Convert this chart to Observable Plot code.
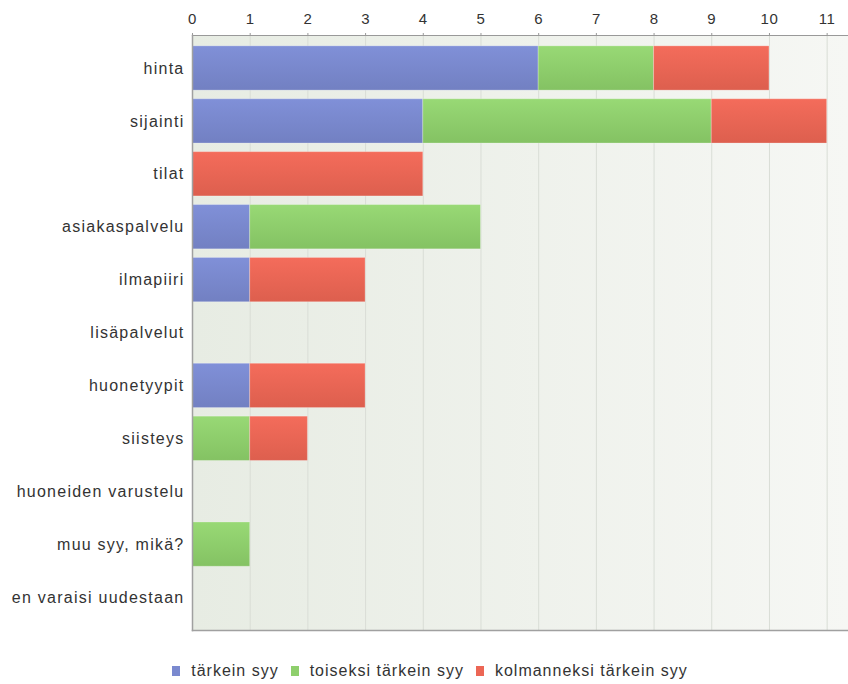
<!DOCTYPE html>
<html>
<head>
<meta charset="utf-8">
<script src="https://cdn.jsdelivr.net/npm/d3@7"></script>
<script src="https://cdn.jsdelivr.net/npm/@observablehq/plot@0.6"></script>
<style>
  body { margin: 0; background: #fff; font-family: "Liberation Sans", Arial, sans-serif; }
  #chart svg g[aria-label="y-axis tick label"] text { letter-spacing: 1.25px; }
  #chart svg g[aria-label="x-axis tick label"] text { letter-spacing: 0.5px; }
  .legend { display: flex; justify-content: center; align-items: center; margin-top: 16px; padding-left: 24px;
    font-size: 16px; letter-spacing: 1px; color: #333; line-height: 20px; }
  .legend span.sw { display: inline-block; width: 8px; height: 10px; margin-right: 11px; }
  .legend span.item { display: inline-flex; align-items: center; margin-right: 12px; }
</style>
</head>
<body>
<div id="chart"></div>
<script>
const categories = ["hinta", "sijainti", "tilat", "asiakaspalvelu", "ilmapiiri", "lisäpalvelut",
  "huonetyypit", "siisteys", "huoneiden varustelu", "muu syy, mikä?", "en varaisi uudestaan"];
const series = ["tärkein syy", "toiseksi tärkein syy", "kolmanneksi tärkein syy"];
const tarkein   = [6, 4, 0, 1, 1, 0, 1, 0, 0, 0, 0];
const toiseksi  = [2, 5, 0, 4, 0, 0, 0, 1, 0, 1, 0];
const kolmanneksi = [2, 2, 4, 0, 2, 0, 2, 1, 0, 0, 0];
const xTicks = [0, 1, 2, 3, 4, 5, 6, 7, 8, 9, 10, 11];
const seriesValues = [tarkein, toiseksi, kolmanneksi];
const swatchColors = ["#7a89cf", "#8ecf6c", "#ec6655"];
const gradients = [["#8090d8", "#7280c2"], ["#98d975", "#84c263"], ["#f46c5b", "#dd5f4e"]];

const data = [];
categories.forEach((c, i) => {
  series.forEach((s, j) => {
    if (seriesValues[j][i] > 0) data.push({cat: c, series: s, value: seriesValues[j][i]});
  });
});

const plot = Plot.plot({
  width: 848,
  height: 645,
  marginTop: 35,
  marginLeft: 192,
  marginRight: 0,
  marginBottom: 15,
  style: {fontFamily: "Liberation Sans, Arial, sans-serif", fontSize: "16px", color: "#333", background: "transparent"},
  x: {domain: [0, 11.37]},
  y: {domain: categories, paddingInner: 0.163, paddingOuter: 0.205, round: false},
  color: {domain: series, range: ["url(#g0)", "url(#g1)", "url(#g2)"], type: "ordinal"},
  marks: [
    Plot.frame({fill: "url(#bg)", stroke: null}),
    Plot.gridX(xTicks, {stroke: "#d9ddd6", strokeOpacity: 1}),
    Plot.barX(data, Plot.stackX({x: "value", y: "cat", fill: "series", stroke: "white", strokeOpacity: 0.25, strokeWidth: 1})),
    Plot.axisX({anchor: "top", ticks: xTicks, tickFormat: d => String(d), tickSize: 3, tickPadding: 9, fontSize: 15, stroke: "#999", label: null}),
    Plot.axisY({anchor: "left", tickSize: 0, tickPadding: 8, label: null, fontSize: 16}),
    Plot.frame({anchor: "top", stroke: "#999", strokeWidth: 1.2}),
    Plot.frame({anchor: "left", stroke: "#a0a0a0", strokeWidth: 1.5}),
    Plot.frame({anchor: "bottom", stroke: "#a0a0a0", strokeWidth: 1.5})
  ]
});

// gradient definitions for bars and plot background
const ns = "http://www.w3.org/2000/svg";
const defs = document.createElementNS(ns, "defs");
gradients.forEach((g, i) => {
  const lg = document.createElementNS(ns, "linearGradient");
  lg.setAttribute("id", "g" + i);
  lg.setAttribute("x1", "0"); lg.setAttribute("y1", "0"); lg.setAttribute("x2", "0"); lg.setAttribute("y2", "1");
  [[0, g[0]], [1, g[1]]].forEach(([o, c]) => {
    const st = document.createElementNS(ns, "stop");
    st.setAttribute("offset", o); st.setAttribute("stop-color", c);
    lg.appendChild(st);
  });
  defs.appendChild(lg);
});
const bg = document.createElementNS(ns, "linearGradient");
bg.setAttribute("id", "bg");
bg.setAttribute("x1", "0"); bg.setAttribute("y1", "0"); bg.setAttribute("x2", "1"); bg.setAttribute("y2", "0");
[[0, "#e7ece3"], [1, "#f6f7f4"]].forEach(([o, c]) => {
  const st = document.createElementNS(ns, "stop");
  st.setAttribute("offset", o); st.setAttribute("stop-color", c);
  bg.appendChild(st);
});
defs.appendChild(bg);
plot.insertBefore(defs, plot.firstChild);

document.getElementById("chart").appendChild(plot);

const legend = document.createElement("div");
legend.className = "legend";
series.forEach((s, i) => {
  const item = document.createElement("span");
  item.className = "item";
  const sw = document.createElement("span");
  sw.className = "sw";
  sw.style.background = swatchColors[i];
  item.appendChild(sw);
  item.appendChild(document.createTextNode(s));
  legend.appendChild(item);
});
document.getElementById("chart").appendChild(legend);
</script>
</body>
</html>
